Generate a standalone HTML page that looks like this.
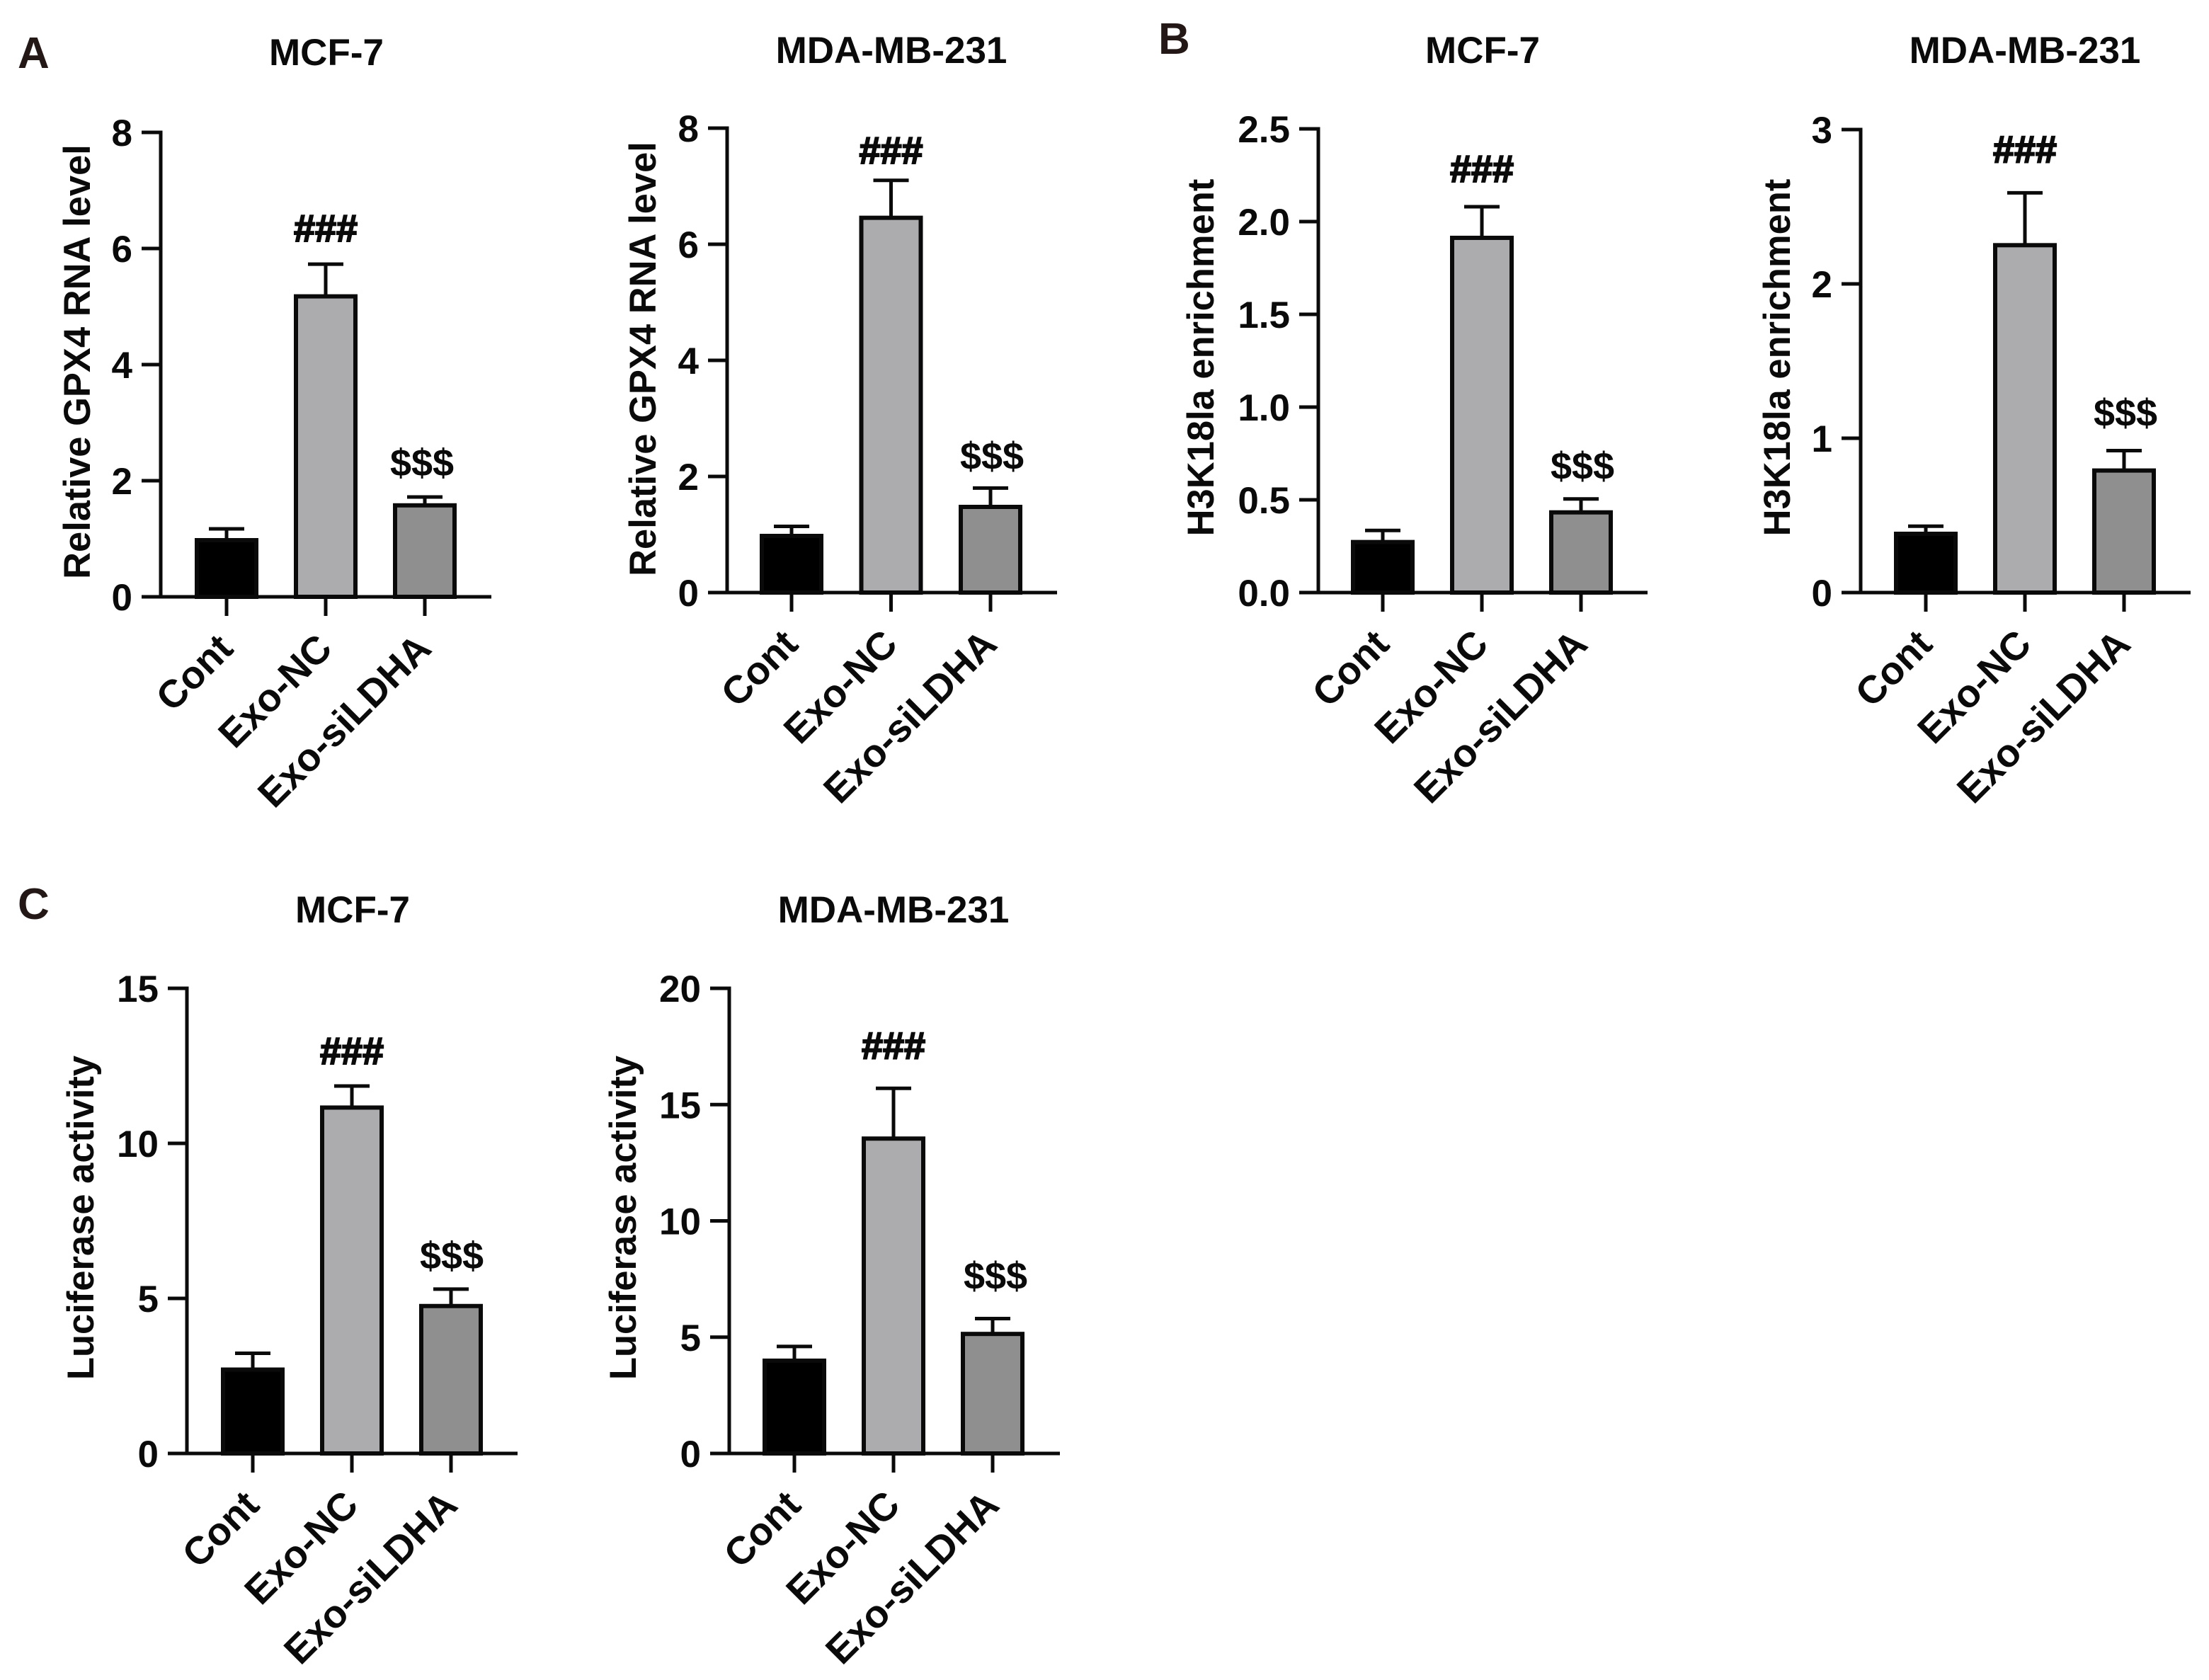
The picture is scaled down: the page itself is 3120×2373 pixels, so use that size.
<!DOCTYPE html>
<html lang="en">
<head>
<meta charset="utf-8">
<title>Exo-siLDHA bar charts</title>
<style>
html,body{margin:0;padding:0;background:#fff;}
svg{display:block;}
text{font-family:"Liberation Sans",Arial,sans-serif;font-weight:700;fill:#0a0a0a;font-size:53px;}
</style>
</head>
<body>
<svg id="figure" xmlns="http://www.w3.org/2000/svg" width="3120" height="2373" viewBox="0 0 3120 2373">
<rect width="3120" height="2373" fill="#fff"/>
<text x="25" y="96" style="font-size:62px;fill:#231815">A</text>
<text x="1636" y="76" style="font-size:62px;fill:#231815">B</text>
<text x="25" y="1298" style="font-size:62px;fill:#231815">C</text>
</svg>
<script>
const categories = ['Cont', 'Exo-NC', 'Exo-siLDHA'];
const barFills = ['#000000', '#acacae', '#8f8f8f'];

const ticksA1 = ['0', '2', '4', '6', '8'];
const valuesA1 = [1.0, 5.2, 1.6];
const errTopsA1 = [1.17, 5.73, 1.72];

const ticksA2 = ['0', '2', '4', '6', '8'];
const valuesA2 = [1.0, 6.48, 1.5];
const errTopsA2 = [1.14, 7.1, 1.8];

const ticksB1 = ['0.0', '0.5', '1.0', '1.5', '2.0', '2.5'];
const valuesB1 = [0.28, 1.92, 0.44];
const errTopsB1 = [0.335, 2.08, 0.505];

const ticksB2 = ['0', '1', '2', '3'];
const valuesB2 = [0.39, 2.26, 0.8];
const errTopsB2 = [0.43, 2.59, 0.92];

const ticksC1 = ['0', '5', '10', '15'];
const valuesC1 = [2.75, 11.2, 4.8];
const errTopsC1 = [3.23, 11.85, 5.3];

const ticksC2 = ['0', '5', '10', '15', '20'];
const valuesC2 = [4.05, 13.6, 5.2];
const errTopsC2 = [4.6, 15.7, 5.8];

const SVG_NS = 'http://www.w3.org/2000/svg';
const figure = document.getElementById('figure');

function line(parent, x1, y1, x2, y2, width) {
  const el = document.createElementNS(SVG_NS, 'line');
  el.setAttribute('x1', x1);
  el.setAttribute('y1', y1);
  el.setAttribute('x2', x2);
  el.setAttribute('y2', y2);
  el.setAttribute('stroke', '#0a0a0a');
  el.setAttribute('stroke-width', width);
  parent.appendChild(el);
  return el;
}

function label(parent, x, y, content, anchor) {
  const el = document.createElementNS(SVG_NS, 'text');
  el.setAttribute('x', x);
  el.setAttribute('y', y);
  el.setAttribute('text-anchor', anchor);
  el.textContent = content;
  parent.appendChild(el);
  return el;
}

function drawChart(p) {
  const g = document.createElementNS(SVG_NS, 'g');
  
  
  figure.appendChild(g);

  const maxTick = Number(p.ticks[p.ticks.length - 1]);
  const yScale = v => p.y0 - (v / maxTick) * (p.y0 - p.yTop);
  const xScale = i => p.xFirst + i * p.xStep;

  const title = label(g, p.titleX, p.titleY, p.title, 'middle');
  
  

  const yTitle = label(g, 0, 0, p.yLabel, 'middle');
  yTitle.setAttribute('transform', 'translate(' + (p.yTitleX - 1) + ' ' + (p.yTitleY + 1) + ') rotate(-90)');
  
  
  yTitle.setAttribute('style', 'font-size:52.5px');

  p.ticks.forEach(t => {
    const y = yScale(Number(t));
    const tickMark = line(g, p.x0 - 27, y, p.x0, y, 5);
    
    
    const tickText = label(g, p.x0 - 40, y + 19, t, 'end');
    
    
  });

  categories.forEach((cat, i) => {
    const cx = xScale(i);
    const yVal = yScale(p.values[i]);
    const yErr = yScale(p.errTops[i]);

    const stem = line(g, cx, yVal, cx, yErr, 5);
    
    
    const cap = line(g, cx - 25, yErr, cx + 25, yErr, 5);
    
    

    const bar = document.createElementNS(SVG_NS, 'rect');
    bar.setAttribute('x', cx - 42);
    bar.setAttribute('y', yVal + 2);
    bar.setAttribute('width', 84);
    bar.setAttribute('height', p.y0 - yVal - 2);
    bar.setAttribute('fill', barFills[i]);
    bar.setAttribute('stroke', '#0a0a0a');
    bar.setAttribute('stroke-width', 6);
    
    
    g.appendChild(bar);

    const xTick = line(g, cx, p.y0, cx, p.y0 + 27, 5);
    
    

    const xText = label(g, 0, 0, cat, 'end');
    xText.setAttribute('transform', 'translate(' + (cx + 12) + ' ' + (p.y0 + 76) + ') rotate(-45)');
    
    
    xText.setAttribute('style', 'font-size:55px');
  });

  const yAxis = line(g, p.x0, p.yTop - 2.5, p.x0, p.y0 + 2.5, 5);
  
  
  const xAxis = line(g, p.x0 - 27, p.y0, p.xRight, p.y0, 5);
  
  

  const hash = label(g, xScale(1), yScale(p.errTops[1]) - p.hashGap, '###', 'middle');
  
  
  hash.setAttribute('style', 'font-size:54px;stroke:#0a0a0a;stroke-width:2px');
  const dollar = label(g, xScale(2) + p.dollarDx, yScale(p.errTops[2]) - p.dollarGap, '$$$', 'middle');
  
  
  dollar.setAttribute('style', 'font-size:54px');
}

drawChart({name: 'chart-a-mcf7', title: 'MCF-7', titleX: 461, titleY: 92, yLabel: 'Relative GPX4 RNA level',
  yTitleX: 128, yTitleY: 510, x0: 227, xRight: 694, yTop: 187, y0: 843, xFirst: 320, xStep: 140,
  ticks: ticksA1, values: valuesA1, errTops: errTopsA1, hashGap: 32, dollarGap: 30, dollarDx: -4});
drawChart({name: 'chart-a-mda', title: 'MDA-MB-231', titleX: 1259, titleY: 89, yLabel: 'Relative GPX4 RNA level',
  yTitleX: 927, yTitleY: 506, x0: 1027, xRight: 1493, yTop: 181, y0: 837, xFirst: 1118, xStep: 140.5,
  ticks: ticksA2, values: valuesA2, errTops: errTopsA2, hashGap: 24, dollarGap: 27, dollarDx: 2});
drawChart({name: 'chart-b-mcf7', title: 'MCF-7', titleX: 2094, titleY: 89, yLabel: 'H3K18la enrichment',
  yTitleX: 1715, yTitleY: 504, x0: 1862, xRight: 2327, yTop: 182, y0: 837, xFirst: 1953, xStep: 140,
  ticks: ticksB1, values: valuesB1, errTops: errTopsB1, hashGap: 35, dollarGap: 28, dollarDx: 2});
drawChart({name: 'chart-b-mda', title: 'MDA-MB-231', titleX: 2860, titleY: 89, yLabel: 'H3K18la enrichment',
  yTitleX: 2529, yTitleY: 504, x0: 2628, xRight: 3094, yTop: 183, y0: 837, xFirst: 2720, xStep: 140,
  ticks: ticksB2, values: valuesB2, errTops: errTopsB2, hashGap: 43, dollarGap: 35, dollarDx: 2});
drawChart({name: 'chart-c-mcf7', title: 'MCF-7', titleX: 498, titleY: 1303, yLabel: 'Luciferase activity',
  yTitleX: 133, yTitleY: 1719, x0: 264, xRight: 731, yTop: 1396, y0: 2053, xFirst: 357, xStep: 140,
  ticks: ticksC1, values: valuesC1, errTops: errTopsC1, hashGap: 31, dollarGap: 29, dollarDx: 1});
drawChart({name: 'chart-c-mda', title: 'MDA-MB-231', titleX: 1262, titleY: 1303, yLabel: 'Luciferase activity',
  yTitleX: 899, yTitleY: 1719, x0: 1030, xRight: 1497, yTop: 1396, y0: 2053, xFirst: 1122, xStep: 140,
  ticks: ticksC2, values: valuesC2, errTops: errTopsC2, hashGap: 42, dollarGap: 42, dollarDx: 4});
</script>
</body>
</html>
